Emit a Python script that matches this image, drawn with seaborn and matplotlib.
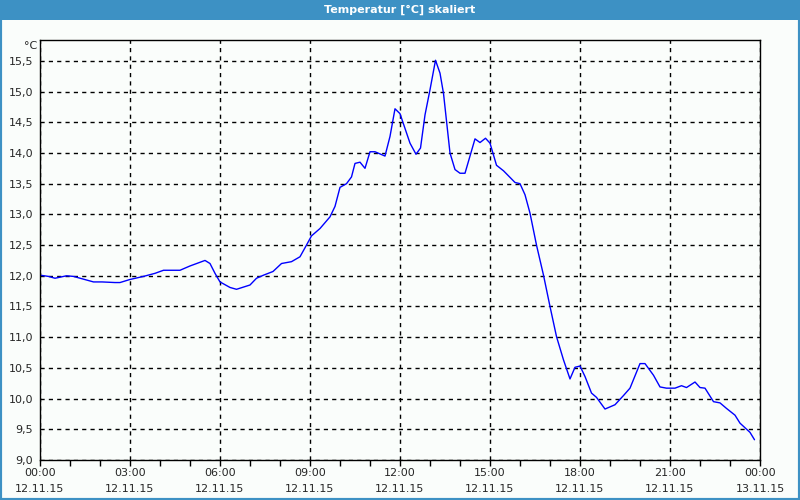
import matplotlib
matplotlib.use("Agg")
import matplotlib.pyplot as plt
from matplotlib.patches import Rectangle
from matplotlib.ticker import MultipleLocator, FuncFormatter
import seaborn as sns
import pandas as pd

# ---- data ----
times = ["00:00", "00:17", "00:30", "00:53", "01:07", "01:47", "02:04", "02:30", "02:40", "03:00",
         "03:27", "03:50", "04:07", "04:40", "05:00", "05:30", "05:40", "05:50", "06:00", "06:20",
         "06:33", "07:00", "07:13", "07:27", "07:46", "08:03", "08:23", "08:40", "08:53", "09:03",
         "09:20", "09:40", "09:50", "10:00", "10:13", "10:23", "10:30", "10:40", "10:50", "11:00",
         "11:10", "11:30", "11:40", "11:50", "12:00", "12:20", "12:32", "12:41", "12:50", "13:00",
         "13:11", "13:20", "13:27", "13:40", "13:50", "14:00", "14:10", "14:30", "14:40", "14:51",
         "15:00", "15:13", "15:27", "15:50", "16:00", "16:10", "16:20", "16:33", "16:47", "17:00",
         "17:13", "17:27", "17:40", "17:50", "18:00", "18:10", "18:23", "18:33", "18:50", "19:10",
         "19:27", "19:40", "20:00", "20:10", "20:27", "20:40", "20:53", "21:10", "21:23", "21:33",
         "21:50", "22:00", "22:10", "22:27", "22:40", "22:53", "23:10", "23:20", "23:40", "23:49"]
temps = [12.01, 11.99, 11.96, 12.00, 11.99, 11.90, 11.90, 11.89, 11.89, 11.94,
         11.99, 12.04, 12.09, 12.09, 12.16, 12.25, 12.20, 12.04, 11.90, 11.81,
         11.78, 11.85, 11.96, 12.01, 12.07, 12.20, 12.23, 12.31, 12.50, 12.65,
         12.77, 12.96, 13.13, 13.44, 13.50, 13.61, 13.83, 13.85, 13.75, 14.02,
         14.02, 13.95, 14.27, 14.72, 14.64, 14.16, 13.98, 14.08, 14.62, 15.03,
         15.51, 15.30, 14.97, 14.00, 13.73, 13.67, 13.67, 14.23, 14.17, 14.24,
         14.16, 13.80, 13.71, 13.52, 13.50, 13.32, 13.02, 12.50, 12.01, 11.50,
         11.01, 10.63, 10.32, 10.51, 10.53, 10.36, 10.09, 10.02, 9.83, 9.90,
         10.05, 10.17, 10.57, 10.57, 10.38, 10.19, 10.17, 10.17, 10.21, 10.18,
         10.27, 10.18, 10.17, 9.95, 9.93, 9.84, 9.73, 9.60, 9.45, 9.33]
x_tick_times = ["00:00", "03:00", "06:00", "09:00", "12:00", "15:00", "18:00", "21:00", "00:00"]
x_tick_dates = ["12.11.15", "12.11.15", "12.11.15", "12.11.15", "12.11.15", "12.11.15",
                "12.11.15", "12.11.15", "13.11.15"]
title = "Temperatur [°C] skaliert"
unit = "°C"

def to_hours(t):
    h, m = t.split(":")
    return int(h) + int(m) / 60.0

df = pd.DataFrame({"hour": [to_hours(t) for t in times], "temp": temps})

sns.set_theme(style="white")
plt.rcParams["font.family"] = ["DejaVu Sans"]

bg = "#FAFDFB"
blue_bar = "#3D91C4"

fig = plt.figure(figsize=(8, 5), dpi=100, facecolor=bg)

# window frame + title bar
fig.patches.append(Rectangle((0, 0), 1, 1, transform=fig.transFigure, facecolor="none",
                             edgecolor=blue_bar, linewidth=3, zorder=0))
fig.patches.append(Rectangle((0, 480 / 500), 1, 20 / 500, transform=fig.transFigure,
                             facecolor=blue_bar, edgecolor="none", zorder=1))
fig.text(0.5, 490 / 500, title, ha="center", va="center", color="white",
         fontsize=8, fontweight="bold")

ax = fig.add_axes([40 / 800, 40 / 500, 720 / 800, 420 / 500])
ax.set_facecolor(bg)

sns.lineplot(data=df, x="hour", y="temp", ax=ax, color="#0000FF", linewidth=1)

ax.set_xlim(0, 24)
ax.set_ylim(9.0, 15.84)
ax.xaxis.set_minor_locator(MultipleLocator(1))
ax.yaxis.set_major_locator(MultipleLocator(0.5))

ax.set_xticks([3 * i for i in range(len(x_tick_times))])
ax.set_xticklabels([f"{a}\n{b}" for a, b in zip(x_tick_times, x_tick_dates)],
                   fontsize=8, linespacing=1.75)
ax.yaxis.set_major_formatter(FuncFormatter(lambda v, p: f"{v:.1f}".replace(".", ",")))
ax.tick_params(axis="y", labelsize=8, length=0, pad=5)
ax.tick_params(axis="x", which="minor", bottom=True, length=4, width=1, color="black",
               direction="out")
ax.tick_params(axis="x", which="major", bottom=True, length=4, width=1, color="black",
               direction="out", pad=2)

ax.grid(True, which="major", color="black", linestyle=(0, (3, 3)), linewidth=1)
ax.set_xlabel("")
ax.set_ylabel("")
for s in ax.spines.values():
    s.set_color("black")
    s.set_linewidth(1)
    s.set_visible(True)

ax.text(-0.004, 0.997, unit, transform=ax.transAxes, ha="right", va="top", fontsize=8)

fig.savefig("out.png", dpi=100, facecolor=bg)
